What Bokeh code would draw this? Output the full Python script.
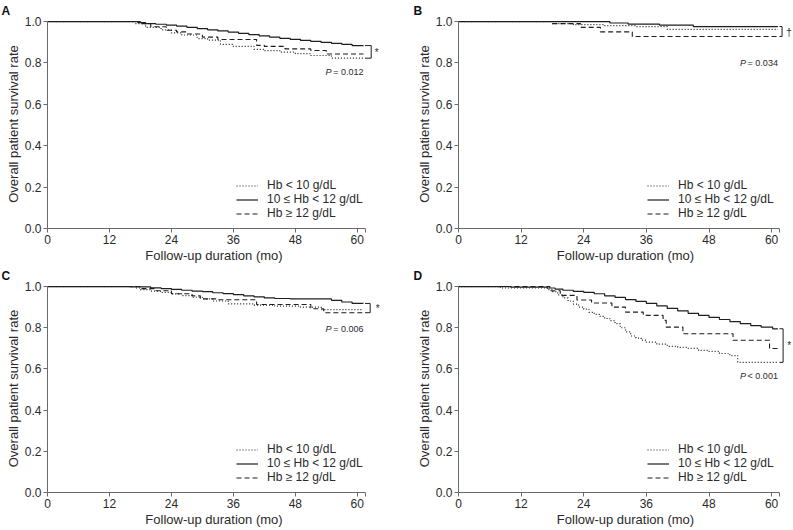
from bokeh.plotting import figure
from bokeh.layouts import row, column
from bokeh.models import Range1d, FixedTicker, Legend, LegendItem, Label, PrintfTickFormatter
from bokeh.embed import file_html
from bokeh.resources import INLINE

# ---------------- data ----------------
x_ticks = [0, 12, 24, 36, 48, 60]
y_ticks = [0.0, 0.2, 0.4, 0.6, 0.8, 1.0]
legend_labels = ["Hb < 10 g/dL", "10 \u2264 Hb < 12 g/dL", "Hb \u2265 12 g/dL"]

# Panel A
a_low_t = [0, 17, 19, 22, 24, 26, 29, 31, 33.5, 36, 40, 42, 45, 48, 51, 55, 61.2]
a_low_s = [1.0, 0.99, 0.972, 0.96, 0.945, 0.935, 0.918, 0.91, 0.89, 0.88, 0.866, 0.86, 0.852, 0.845, 0.836, 0.823, 0.823]
a_mid_t = [0, 17.5, 19, 21, 23, 25, 27, 29, 31, 33, 35, 37, 39, 41, 43, 45, 47, 49, 51, 53, 55, 57, 59, 61.2]
a_mid_s = [1.0, 0.995, 0.99, 0.987, 0.983, 0.978, 0.972, 0.966, 0.96, 0.955, 0.949, 0.943, 0.937, 0.931, 0.925, 0.919, 0.914, 0.909, 0.904, 0.899, 0.895, 0.89, 0.884, 0.884]
a_high_t = [0, 18, 20, 23, 25, 27, 30, 33, 40.5, 42, 46, 51, 54, 61.2]
a_high_s = [1.0, 0.99, 0.975, 0.958, 0.95, 0.94, 0.925, 0.913, 0.885, 0.88, 0.868, 0.86, 0.843, 0.843]
a_pval = "P = 0.012"
a_mark = "*"

# Panel B
b_low_t = [0, 18, 22, 28, 34, 40, 61.2]
b_low_s = [1.0, 0.99, 0.985, 0.98, 0.976, 0.962, 0.962]
b_mid_t = [0, 29, 32.5, 38.5, 45, 61.2]
b_mid_s = [1.0, 0.993, 0.988, 0.983, 0.976, 0.976]
b_high_t = [0, 18, 23.4, 27.2, 33.3, 61.2]
b_high_s = [1.0, 0.99, 0.972, 0.95, 0.928, 0.928]
b_pval = "P = 0.034"
b_mark = "\u2020"

# Panel C
c_low_t = [0, 17, 18, 20, 22, 24, 26, 28, 30, 32, 35, 40, 44, 49, 53, 61.2]
c_low_s = [1.0, 0.993, 0.985, 0.978, 0.972, 0.964, 0.956, 0.948, 0.94, 0.93, 0.916, 0.91, 0.905, 0.9, 0.888, 0.888]
c_mid_t = [0, 16, 20, 22, 24, 26, 28, 30, 32, 34, 36, 38, 40, 42, 44, 47, 55, 57, 59, 61.2]
c_mid_s = [1.0, 0.998, 0.994, 0.99, 0.986, 0.982, 0.978, 0.975, 0.97, 0.966, 0.961, 0.955, 0.95, 0.945, 0.942, 0.94, 0.933, 0.925, 0.918, 0.918]
c_high_t = [0, 18, 21, 24, 28, 29.6, 33, 40.5, 51, 53.5, 61.2]
c_high_s = [1.0, 0.99, 0.98, 0.965, 0.955, 0.94, 0.936, 0.913, 0.892, 0.873, 0.873]
c_pval = "P = 0.006"
c_mark = "*"

# Panel D
d_low_t = [0, 8, 17, 18, 19, 20, 21, 22, 23, 24, 25, 26, 27, 28, 29, 30, 31, 32, 33, 34, 35, 36, 38, 40, 42, 44, 46, 48, 50, 52, 53.5, 61.2]
d_low_s = [1.0, 0.993, 0.985, 0.975, 0.96, 0.945, 0.93, 0.915, 0.9, 0.89, 0.875, 0.865, 0.855, 0.845, 0.835, 0.82, 0.8, 0.78, 0.76, 0.75, 0.74, 0.73, 0.72, 0.71, 0.705, 0.70, 0.69, 0.685, 0.675, 0.665, 0.632, 0.632]
d_mid_t = [0, 10, 17, 18.5, 20, 22, 24, 26, 28, 30, 32, 34, 36, 38, 40, 42, 44, 46, 48, 50, 52, 54, 56, 58, 60.2, 61.2]
d_mid_s = [1.0, 0.997, 0.993, 0.988, 0.982, 0.977, 0.972, 0.965, 0.955, 0.947, 0.937, 0.928, 0.918, 0.906, 0.894, 0.882, 0.87, 0.86, 0.85, 0.84, 0.83, 0.82, 0.81, 0.803, 0.795, 0.795]
d_high_t = [0, 17.5, 19.5, 22.7, 25.5, 29.4, 32, 35.4, 39.2, 39.8, 43, 52.6, 59.6, 61.2]
d_high_s = [1.0, 0.98, 0.957, 0.935, 0.92, 0.9, 0.876, 0.86, 0.836, 0.803, 0.771, 0.739, 0.699, 0.699]
d_pval = "P < 0.001"
d_mark = "*"

# ---------------- styling ----------------
FONT = "Liberation Sans"
TXT = "#2a2a2a"
AX = "#6a6a6a"
LINE = "#1e1e1e"
AXIS_END = 61.5


def panel(letter, series, pval, mark, pval_y, mark_x, mark_y, brk_x, width, height,
          mb_left, mb_right, mb_top, mb_bottom, x_end, letter_dx):
    p = figure(width=width, height=height, x_range=Range1d(0, x_end), y_range=Range1d(0, 1.01),
               output_backend="svg", toolbar_location=None, min_border=0,
               min_border_left=mb_left, min_border_right=mb_right,
               min_border_top=mb_top, min_border_bottom=mb_bottom)
    p.grid.visible = False
    p.outline_line_color = None
    p.background_fill_color = "white"
    p.border_fill_color = "white"

    p.title.text = letter
    p.title.align = "left"
    p.title.offset = letter_dx
    p.title.standoff = 3
    p.title.text_font = FONT
    p.title.text_font_size = "12px"
    p.title.text_font_style = "bold"
    p.title.text_color = "#111111"

    dashes = ["1 2", "solid", "5 3"]
    widths = [1.2, 1.2, 1.1]
    rends = []
    for (t, s), dash, w in zip(series, dashes, widths):
        r = p.step(t, s, mode="after", line_color=LINE, line_width=w, line_dash=dash)
        rends.append(r)

    # bracket joining the top and bottom curve ends
    finals = [s[-1] for (t, s) in series]
    t_end = max(t[-1] for (t, s) in series)
    top, bot = max(finals), min(finals)
    p.line([t_end + 0.3, brk_x, brk_x, t_end + 0.3], [top, top, bot, bot],
           line_color=LINE, line_width=1)

    for ax in (p.xaxis[0], p.yaxis[0]):
        ax.axis_line_color = AX
        ax.major_tick_line_color = AX
        ax.major_tick_in = 0
        ax.major_tick_out = 4
        ax.minor_tick_in = 0
        ax.minor_tick_out = 0
        ax.major_label_text_font = FONT
        ax.major_label_text_font_size = "12px"
        ax.major_label_text_color = TXT
        ax.axis_label_text_font = FONT
        ax.axis_label_text_font_size = "13px"
        ax.axis_label_text_font_style = "normal"
        ax.axis_label_text_color = TXT
        ax.major_label_standoff = 2
        ax.axis_label_standoff = 1

    p.xaxis.ticker = FixedTicker(ticks=x_ticks + [AXIS_END])
    p.xaxis.major_label_overrides = {AXIS_END: ""}
    p.xaxis.bounds = (0, AXIS_END)
    p.xaxis.axis_label = "Follow-up duration (mo)"
    p.yaxis.ticker = FixedTicker(ticks=y_ticks)
    p.yaxis.formatter = PrintfTickFormatter(format="%.1f")
    p.yaxis.bounds = (0, 1)
    p.yaxis.axis_label = "Overall patient survival rate"

    items = [LegendItem(label=lab, renderers=[r]) for lab, r in zip(legend_labels, rends)]
    leg = Legend(items=items, location=(189, 8), padding=0, margin=0, spacing=0,
                 glyph_width=22, glyph_height=13, label_height=13, label_standoff=9,
                 label_text_font=FONT, label_text_font_size="12px", label_text_color=TXT,
                 border_line_color=None, background_fill_alpha=0)
    p.add_layout(leg)

    # P value (italic P + rest)
    rest = pval[2:]
    p.add_layout(Label(x=t_end, y=pval_y, text=rest, text_align="right", text_baseline="middle",
                       text_font=FONT, text_font_size="9px", text_color=TXT))
    p.add_layout(Label(x=t_end, y=pval_y, x_offset=-32, text="P", text_align="right",
                       text_baseline="middle", text_font=FONT, text_font_size="9px",
                       text_font_style="italic", text_color=TXT))
    p.add_layout(Label(x=mark_x, y=mark_y, text=mark, text_align="left",
                       text_baseline="middle", text_font=FONT, text_font_size="10px", text_color=TXT))
    return p


pa = panel("A", [(a_low_t, a_low_s), (a_mid_t, a_mid_s), (a_high_t, a_high_s)], a_pval, a_mark,
           pval_y=0.755, mark_x=63.4, mark_y=0.85, brk_x=62.7, width=400, height=265,
           mb_left=47, mb_right=20, mb_top=19, mb_bottom=37, x_end=64.5, letter_dx=-46)
pb = panel("B", [(b_low_t, b_low_s), (b_mid_t, b_mid_s), (b_high_t, b_high_s)], b_pval, b_mark,
           pval_y=0.80, mark_x=62.8, mark_y=0.947, brk_x=62.0, width=392, height=265,
           mb_left=58, mb_right=0, mb_top=19, mb_bottom=37, x_end=64.0, letter_dx=-45)
pc = panel("C", [(c_low_t, c_low_s), (c_mid_t, c_mid_s), (c_high_t, c_high_s)], c_pval, c_mark,
           pval_y=0.792, mark_x=63.6, mark_y=0.895, brk_x=62.5, width=400, height=264,
           mb_left=47, mb_right=20, mb_top=19, mb_bottom=36, x_end=64.5, letter_dx=-46)
pd_ = panel("D", [(d_low_t, d_low_s), (d_mid_t, d_mid_s), (d_high_t, d_high_s)], d_pval, d_mark,
            pval_y=0.565, mark_x=63.0, mark_y=0.715, brk_x=62.2, width=392, height=264,
            mb_left=58, mb_right=0, mb_top=19, mb_bottom=36, x_end=64.0, letter_dx=-45)

layout = column(row(pa, pb), row(pc, pd_))
open("out.html", "w").write(file_html(layout, INLINE))
